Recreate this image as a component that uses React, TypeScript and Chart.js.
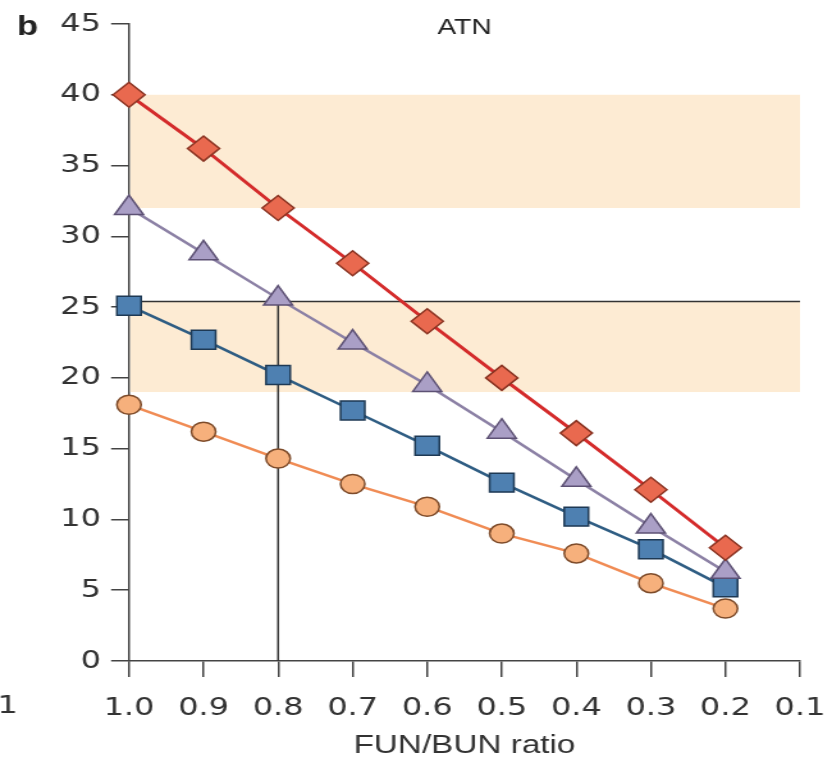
import React, { useEffect, useRef } from 'react';
import { Chart, registerables } from 'chart.js';

Chart.register(...registerables);

// ---- data ----
const ratios = [1.0, 0.9, 0.8, 0.7, 0.6, 0.5, 0.4, 0.3, 0.2];
const diamondSeries = [40, 36.2, 32, 28.1, 24, 20, 16.1, 12.1, 8];
const triangleSeries = [32, 28.8, 25.6, 22.5, 19.5, 16.2, 12.8, 9.5, 6.3];
const squareSeries = [25.1, 22.7, 20.2, 17.7, 15.2, 12.6, 10.2, 7.9, 5.2];
const circleSeries = [18.1, 16.2, 14.3, 12.5, 10.9, 9.0, 7.6, 5.5, 3.7];
const xTicks = [1.0, 0.9, 0.8, 0.7, 0.6, 0.5, 0.4, 0.3, 0.2, 0.1];
const bandLow = [32, 19];
const bandHigh = [40, 25.4];
const refLineX = [1.0, 0.1];
const refRatio = 0.8;
const refValue = 25.4;

// ---- layout ----
const S = 1.28; // horizontal stretch of the original figure
const H = 763;
const W = Math.ceil(837 / S);

const textPlugin = {
  id: 'extraText',
  afterDraw(chart: any) {
    const { ctx } = chart;
    ctx.save();
    ctx.fillStyle = '#222';
    ctx.textBaseline = 'middle';
    ctx.textAlign = 'center';
    ctx.font = 'bold 27px "Liberation Sans", Arial, sans-serif';
    ctx.fillText('b', 21.5, 28);
    ctx.font = '22px "Liberation Sans", Arial, sans-serif';
    ctx.fillText('ATN', 363, 28);
    ctx.fillStyle = '#333';
    ctx.textAlign = 'left';
    ctx.font = '25px "DejaVu Sans", sans-serif';
    ctx.fillText('1', -2, 706);
    ctx.restore();
  },
};

const bandsPlugin = {
  id: 'bands',
  beforeDatasetsDraw(chart: any) {
    const { ctx, scales } = chart;
    const x = scales.x;
    const y = scales.y;
    ctx.save();
    ctx.fillStyle = '#fdebd3';
    const l = x.getPixelForValue(refLineX[0]) + 1;
    const r = x.getPixelForValue(refLineX[1]);
    bandLow.forEach((lo, i) => {
      const top = y.getPixelForValue(bandHigh[i]);
      const bot = y.getPixelForValue(lo);
      ctx.fillRect(l, top, r - l, bot - top);
    });
    ctx.restore();
  },
};

function series(vals: number[]) {
  return ratios.map((r, i) => ({ x: r, y: vals[i] }));
}

export default function App() {
  const ref = useRef<HTMLCanvasElement>(null);
  useEffect(() => {
    document.body.style.margin = '0';
    const canvas = ref.current!;
    const chart = new Chart(canvas, {
      type: 'line',
      data: {
        datasets: [
          {
            data: series(diamondSeries),
            borderColor: '#d42b2b',
            borderWidth: 3,
            pointStyle: 'rectRot',
            pointRadius: 12.5,
            pointBackgroundColor: '#e9694f',
            pointBorderColor: '#8a3322',
            pointBorderWidth: 1.5,
            clip: false,
          },
          {
            data: series(triangleSeries),
            borderColor: '#8c81a5',
            borderWidth: 2.5,
            pointStyle: 'triangle',
            pointRadius: 13,
            pointBackgroundColor: '#aa9fc6',
            pointBorderColor: '#5d5174',
            pointBorderWidth: 1.5,
            clip: false,
          },
          {
            data: series(squareSeries),
            borderColor: '#2f5d83',
            borderWidth: 2.5,
            pointStyle: 'rect',
            pointRadius: 13.4,
            pointBackgroundColor: '#4e80b1',
            pointBorderColor: '#1e3954',
            pointBorderWidth: 1.5,
            clip: false,
          },
          {
            data: series(circleSeries),
            borderColor: '#f08c55',
            borderWidth: 2.5,
            pointStyle: 'circle',
            pointRadius: 9.5,
            pointBackgroundColor: '#f6b07c',
            pointBorderColor: '#7d4b2a',
            pointBorderWidth: 1.5,
            clip: false,
          },
          {
            data: refLineX.map((v) => ({ x: v, y: refValue })),
            borderColor: '#333',
            borderWidth: 1.5,
            pointRadius: 0,
          },
          {
            data: [
              { x: refRatio, y: 0 },
              { x: refRatio, y: refValue },
            ],
            borderColor: '#333',
            borderWidth: 1.5,
            pointRadius: 0,
          },
        ],
      },
      options: {
        animation: false,
        responsive: false,
        devicePixelRatio: 1,
        layout: { padding: { left: 0, top: 24, right: W - 800 / S, bottom: 0 } },
        plugins: { legend: { display: false }, tooltip: { enabled: false } },
        scales: {
          x: {
            type: 'linear',
            reverse: true,
            min: 0.1,
            max: 1.0,
            afterBuildTicks: (scale: any) => {
              scale.ticks = xTicks.map((v) => ({ value: v }));
            },
            afterFit: (scale: any) => {
              scale.height = H - 661;
              scale.paddingLeft = 0;
              scale.paddingRight = 0;
            },
            ticks: {
              autoSkip: false,
              maxRotation: 0,
              padding: 16,
              color: '#333',
              font: { family: '"DejaVu Sans", sans-serif', size: 25 },
              callback: (v: any) => Number(v).toFixed(1),
            },
            grid: {
              drawOnChartArea: false,
              drawTicks: true,
              tickLength: 16,
              color: '#444',
              lineWidth: 1.5,
            },
            border: { display: true, color: '#444', width: 1.5 },
            title: {
              display: true,
              text: 'FUN/BUN ratio',
              color: '#333',
              font: { family: '"Liberation Sans", Arial, sans-serif', size: 26 },
              padding: { top: 0, bottom: 2 },
            },
          },
          y: {
            type: 'linear',
            min: 0,
            max: 45,
            afterFit: (scale: any) => {
              scale.width = 129 / S;
              scale.paddingTop = 0;
              scale.paddingBottom = 0;
            },
            ticks: {
              stepSize: 5,
              padding: 8,
              color: '#333',
              font: { family: '"DejaVu Sans", sans-serif', size: 25 },
            },
            grid: {
              drawOnChartArea: false,
              drawTicks: true,
              tickLength: 14,
              color: '#444',
              lineWidth: 1.5,
            },
            border: { display: true, color: '#444', width: 1.5 },
          },
        },
      },
      plugins: [bandsPlugin, textPlugin],
    } as any);
    return () => chart.destroy();
  }, []);

  return (
    <div style={{ position: 'absolute', left: 0, top: 0, width: 837, height: H, overflow: 'hidden' }}>
      <canvas
        ref={ref}
        width={W}
        height={H}
        style={{ display: 'block', transform: `scaleX(${S})`, transformOrigin: '0 0' }}
      />
    </div>
  );
}
